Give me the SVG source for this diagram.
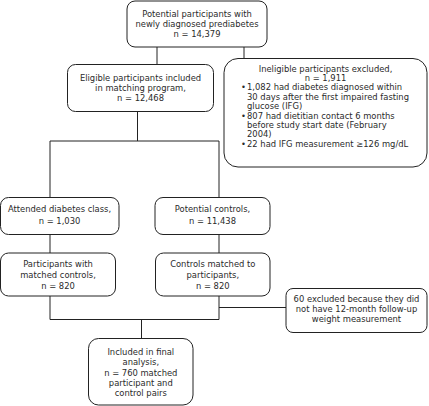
<svg xmlns="http://www.w3.org/2000/svg" width="429" height="406" viewBox="0 0 429 406">
<style>
rect.box{fill:#fff;stroke:#222;stroke-width:1}
text{font-family:"DejaVu Sans","Liberation Sans",sans-serif;font-size:8.4px;fill:#2a2a2a}
.c{text-anchor:middle}
.conn path{fill:none;stroke:#222;stroke-width:1}
</style>
<rect width="429" height="406" fill="#fff"/>
<g class="conn" id="connectors">
<path d="M157 47V64.5"/>
<path d="M244 47V58.5"/>
<path d="M137.5 111.5V141"/>
<path d="M50 141H219"/>
<path d="M50 141V197.5"/>
<path d="M219 141V197.5"/>
<path d="M50 234.5V253"/>
<path d="M219 234.5V253"/>
<path d="M50 296V319.5H219V296"/>
<path d="M219 307.5H286"/>
<path d="M141.5 319.5V338.5"/>
</g>
<g id="potential">
<rect class="box" x="127" y="1" width="140" height="46" rx="8"/>
<text class="c" x="197" y="16.5">Potential participants with</text>
<text class="c" x="197" y="26.8">newly diagnosed prediabetes</text>
<text class="c" x="197" y="37">n = 14,379</text>
</g>
<g id="eligible">
<rect class="box" x="67.5" y="64.5" width="146" height="47" rx="8"/>
<text class="c" x="140.5" y="80.5">Eligible participants included</text>
<text class="c" x="140.5" y="90.8">in matching program,</text>
<text class="c" x="140.5" y="101">n = 12,468</text>
</g>
<g id="ineligible">
<rect class="box" x="224" y="58.5" width="203" height="108.5" rx="14"/>
<text class="c" x="325.5" y="71.5">Ineligible participants excluded,</text>
<text class="c" x="325.5" y="80.9">n = 1,911</text>
<text x="241" y="90.3">•</text>
<text x="247" y="90.3">1,082 had diabetes diagnosed within</text>
<text x="247" y="99.7">30 days after the first impaired fasting</text>
<text x="247" y="109.1">glucose (IFG)</text>
<text x="241" y="118.5">•</text>
<text x="247" y="118.5">807 had dietitian contact 6 months</text>
<text x="247" y="127.9">before study start date (February</text>
<text x="247" y="137.3">2004)</text>
<text x="241" y="146.7">•</text>
<text x="247" y="146.7">22 had IFG measurement ≥126 mg/dL</text>
</g>
<g id="attended">
<rect class="box" x="0.5" y="197.5" width="118.5" height="37" rx="8"/>
<text class="c" x="59.5" y="212.3">Attended diabetes class,</text>
<text class="c" x="59.5" y="223.5">n = 1,030</text>
</g>
<g id="potential-controls">
<rect class="box" x="155" y="197.5" width="115" height="37" rx="8"/>
<text class="c" x="212.5" y="212.3">Potential controls,</text>
<text class="c" x="212.5" y="223.5">n = 11,438</text>
</g>
<g id="participants-matched">
<rect class="box" x="0.5" y="253" width="115" height="43" rx="8"/>
<text class="c" x="58" y="267">Participants with</text>
<text class="c" x="58" y="278">matched controls,</text>
<text class="c" x="58" y="289">n = 820</text>
</g>
<g id="controls-matched">
<rect class="box" x="155.5" y="253" width="114.5" height="43" rx="8"/>
<text class="c" x="212.8" y="267">Controls matched to</text>
<text class="c" x="212.8" y="278">participants,</text>
<text class="c" x="212.8" y="289">n = 820</text>
</g>
<g id="excluded-60">
<rect class="box" x="286" y="288.5" width="141" height="44" rx="7"/>
<text class="c" x="356.5" y="302">60 excluded because they did</text>
<text class="c" x="356.5" y="312.3">not have 12-month follow-up</text>
<text class="c" x="356.5" y="322.3">weight measurement</text>
</g>
<g id="final">
<rect class="box" x="88.5" y="338.5" width="104.5" height="66.5" rx="10"/>
<text class="c" x="140.8" y="354.7">Included in final</text>
<text class="c" x="140.8" y="365.3">analysis,</text>
<text class="c" x="140.8" y="375.5">n = 760 matched</text>
<text class="c" x="140.8" y="385.8">participant and</text>
<text class="c" x="140.8" y="396.3">control pairs</text>
</g>
</svg>
